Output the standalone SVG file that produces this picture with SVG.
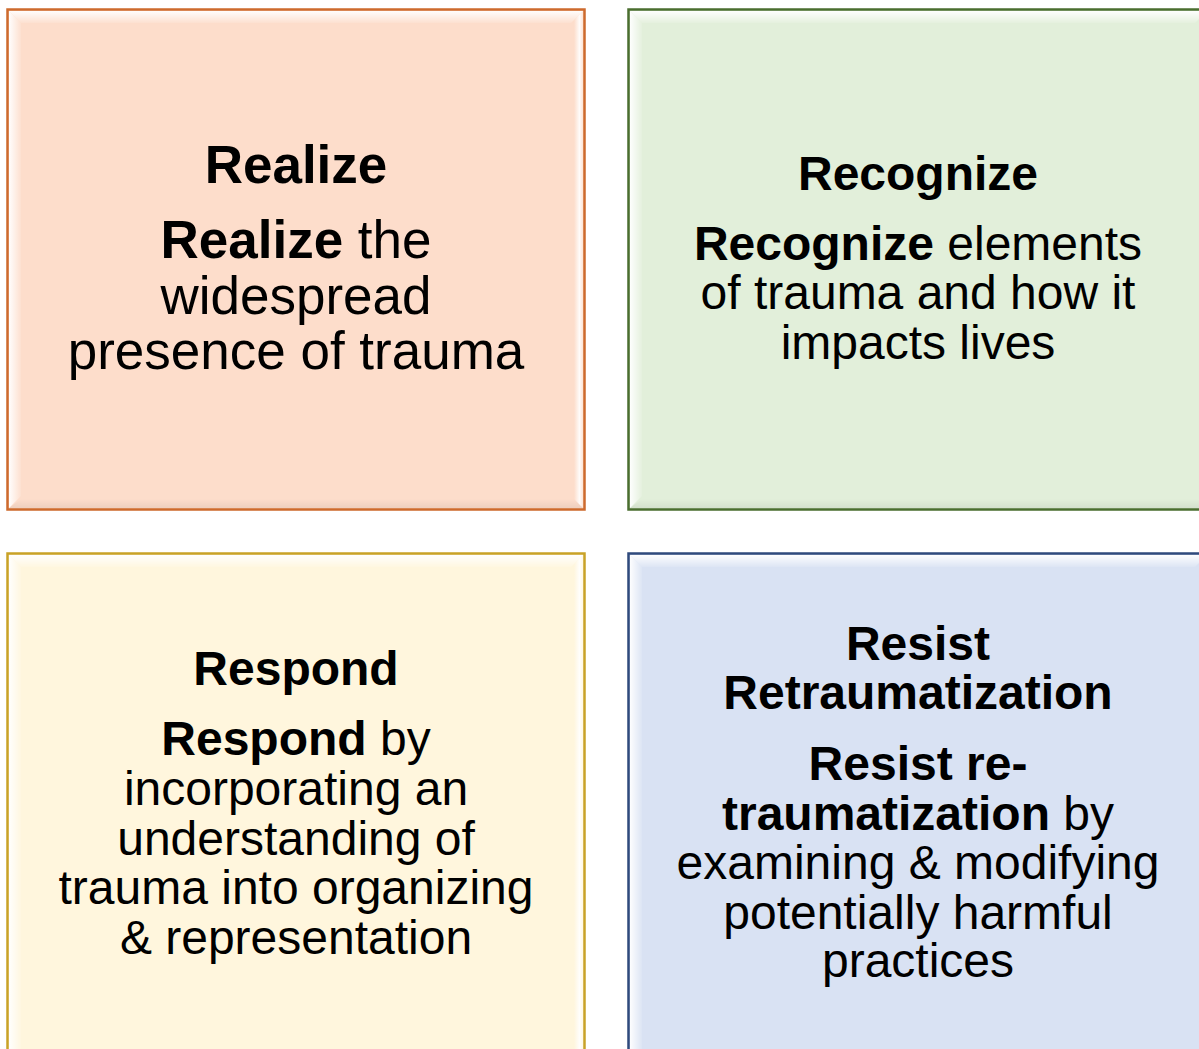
<svg xmlns="http://www.w3.org/2000/svg" width="1199" height="1049" viewBox="0 0 1199 1049">
<defs>
<linearGradient id="gTop" x1="0" y1="0" x2="0" y2="1"><stop offset="0" stop-color="#fff" stop-opacity="0.95"/><stop offset="1" stop-color="#fff" stop-opacity="0.1"/></linearGradient>
<linearGradient id="gLeft" x1="0" y1="0" x2="1" y2="0"><stop offset="0" stop-color="#fff" stop-opacity="0.95"/><stop offset="1" stop-color="#fff" stop-opacity="0.1"/></linearGradient>
<linearGradient id="gRight" x1="1" y1="0" x2="0" y2="0"><stop offset="0" stop-color="#fff" stop-opacity="0.2"/><stop offset="0.4" stop-color="#fff" stop-opacity="0.9"/><stop offset="1" stop-color="#fff" stop-opacity="0"/></linearGradient>
<linearGradient id="gBot" x1="0" y1="1" x2="0" y2="0"><stop offset="0" stop-color="#000" stop-opacity="0.06"/><stop offset="1" stop-color="#000" stop-opacity="0"/></linearGradient>
</defs>
<style>
text{font-family:"Liberation Sans",Arial,sans-serif;fill:#000;text-anchor:middle}
.b{font-weight:bold}
.t1{font-size:53px}
.t2{font-size:48px}
</style>
<rect width="1199" height="1049" fill="#fff"/>

<g id="node-realize">
<rect x="7.5" y="9.5" width="577" height="500" fill="#FDDDCB"/>
<polygon points="9,11 583,11 571,23 21,23" fill="url(#gTop)"/>
<polygon points="9,11 21,23 21,496 9,508" fill="url(#gLeft)"/>
<polygon points="583,11 583,508 574,499 574,20" fill="url(#gRight)"/>
<polygon points="9,508 583,508 574,499 21,499" fill="url(#gBot)"/>
<rect x="7.5" y="9.5" width="577" height="500" fill="none" stroke="#CD6A2D" stroke-width="2.5"/>
<text class="t1 b" x="296" y="183">Realize</text>
<text class="t1" x="296" y="258"><tspan class="b">Realize</tspan> the</text>
<text class="t1" x="296" y="313.5">widespread</text>
<text class="t1" x="296" y="369">presence of trauma</text>
</g>

<g id="node-recognize">
<rect x="628.5" y="9.5" width="580" height="500" fill="#E2EFDA"/>
<polygon points="630,11 1207,11 1195,23 642,23" fill="url(#gTop)"/>
<polygon points="630,11 642,23 642,496 630,508" fill="url(#gLeft)"/>
<polygon points="630,508 1207,508 1198,499 642,499" fill="url(#gBot)"/>
<rect x="628.5" y="9.5" width="580" height="500" fill="none" stroke="#4A6E2F" stroke-width="2.5"/>
<text class="t2 b" x="918" y="190">Recognize</text>
<text class="t2" x="918" y="260"><tspan class="b">Recognize</tspan> elements</text>
<text class="t2" x="918" y="309">of trauma and how it</text>
<text class="t2" x="918" y="359">impacts lives</text>
</g>

<g id="node-respond">
<rect x="7.5" y="553.5" width="577" height="500" fill="#FFF6DD"/>
<polygon points="9,555 583,555 571,567 21,567" fill="url(#gTop)"/>
<polygon points="9,555 21,567 21,1052 9,1052" fill="url(#gLeft)"/>
<polygon points="583,555 583,1052 574,1052 574,564" fill="url(#gRight)"/>
<rect x="7.5" y="553.5" width="577" height="500" fill="none" stroke="#C9A227" stroke-width="2.5"/>
<text class="t2 b" x="296" y="685">Respond</text>
<text class="t2" x="296" y="755"><tspan class="b">Respond</tspan> by</text>
<text class="t2" x="296" y="805">incorporating an</text>
<text class="t2" x="296" y="855">understanding of</text>
<text class="t2" x="296" y="904">trauma into organizing</text>
<text class="t2" x="296" y="954">&amp; representation</text>
</g>

<g id="node-resist">
<rect x="628.5" y="553.5" width="580" height="500" fill="#D9E2F3"/>
<polygon points="630,555 1207,555 1195,567 642,567" fill="url(#gTop)"/>
<polygon points="630,555 642,567 642,1052 630,1052" fill="url(#gLeft)"/>
<rect x="628.5" y="553.5" width="580" height="500" fill="none" stroke="#2F4A7C" stroke-width="2.5"/>
<text class="t2 b" x="918" y="660">Resist</text>
<text class="t2 b" x="918" y="709">Retraumatization</text>
<text class="t2" x="918" y="780"><tspan class="b">Resist re-</tspan></text>
<text class="t2" x="918" y="830"><tspan class="b">traumatization</tspan> by</text>
<text class="t2" x="918" y="879">examining &amp; modifying</text>
<text class="t2" x="918" y="929">potentially harmful</text>
<text class="t2" x="918" y="977">practices</text>
</g>

<g id="connectors"/>
</svg>
